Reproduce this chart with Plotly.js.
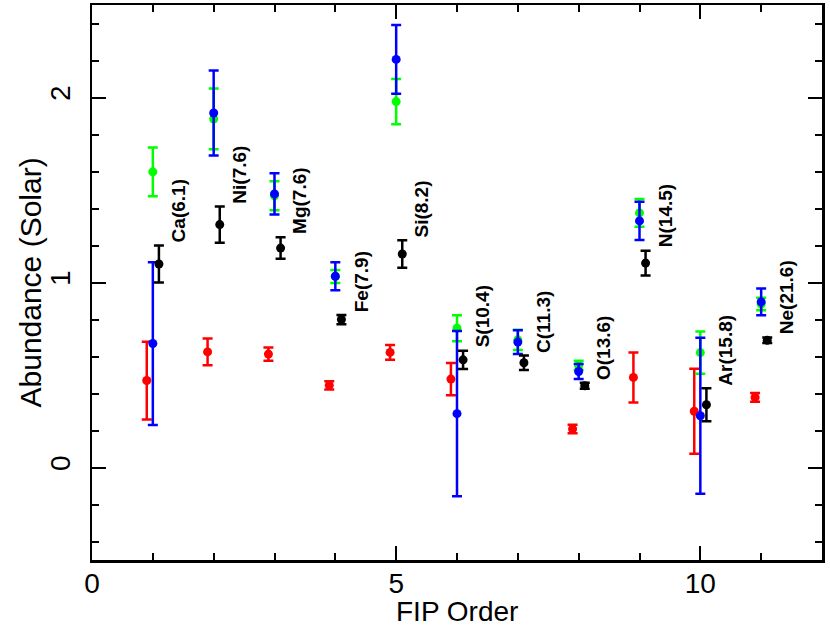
<!DOCTYPE html>
<html>
<head>
<meta charset="utf-8">
<script src="https://cdn.plot.ly/plotly-3.0.1.min.js"></script>
<style>
  html, body { margin: 0; padding: 0; background: #fff; }
  #chart { width: 830px; height: 629px; }
</style>
</head>
<body>
<div id="chart"></div>
<script>
// Element order (by FIP) and labels
const ORDER = [1, 2, 3, 4, 5, 6, 7, 8, 9, 10, 11];
const LABELS = ['Ca(6.1)', 'Ni(7.6)', 'Mg(7.6)', 'Fe(7.9)', 'Si(8.2)', 'S(10.4)',
                'C(11.3)', 'O(13.6)', 'N(14.5)', 'Ar(15.8)', 'Ne(21.6)'];

// Red set (plotted at order - 0.1); no value for C
const RED_VAL = [0.47, 0.625, 0.613, 0.444, 0.622, 0.478, null, 0.208, 0.487, 0.304, 0.379];
const RED_ERR = [0.21, 0.072, 0.036, 0.022, 0.04, 0.087, null, 0.023, 0.135, 0.23, 0.024];

// Green set (at order)
const GREEN_VAL = [1.598, 1.884, 1.469, 1.032, 1.978, 0.753, 0.69, 0.552, 1.376, 0.621, 0.884];
const GREEN_ERR = [0.132, 0.164, 0.078, 0.035, 0.122, 0.07, 0.055, 0.025, 0.075, 0.114, 0.034];

// Blue set (at order)
const BLUE_VAL = [0.67, 1.916, 1.479, 1.034, 2.206, 0.291, 0.678, 0.519, 1.333, 0.28, 0.895];
const BLUE_ERR = [0.44, 0.23, 0.111, 0.076, 0.186, 0.447, 0.064, 0.04, 0.103, 0.422, 0.072];

// Black set (at order + 0.1)
const BLACK_VAL = [1.10, 1.313, 1.186, 0.80, 1.154, 0.582, 0.566, 0.442, 1.105, 0.339, 0.688];
const BLACK_ERR = [0.10, 0.098, 0.058, 0.025, 0.074, 0.049, 0.039, 0.016, 0.067, 0.089, 0.015];

const FONT = '"Liberation Sans", Arial, sans-serif';

function serie(vals, errs, shift, color) {
  return {
    x: ORDER.map(o => o + shift),
    y: vals,
    type: 'scatter',
    mode: 'markers',
    marker: { color: color, size: 9 },
    error_y: { type: 'data', array: errs, visible: true, color: color, thickness: 2.5, width: 5 },
    hoverinfo: 'x+y',
  };
}

const traces = [
  serie(RED_VAL, RED_ERR, -0.1, '#ff0000'),
  serie(GREEN_VAL, GREEN_ERR, 0, '#00ff00'),
  serie(BLUE_VAL, BLUE_ERR, 0, '#0000ff'),
  serie(BLACK_VAL, BLACK_ERR, 0.1, '#000000'),
];

// Element names written upward, sitting on top of the black error bar
const annotations = LABELS.map((txt, i) => ({
  x: ORDER[i] + 0.42,
  y: BLACK_VAL[i] + BLACK_ERR[i],
  xref: 'x', yref: 'y',
  text: txt,
  showarrow: false,
  textangle: -90,
  xanchor: 'center', yanchor: 'bottom',
  yshift: 1,
  font: { family: FONT, size: 19, color: '#000', weight: 'bold' },
}));

// Axis titles placed by hand, the bottom margin is tight
annotations.push({
  x: 0.5, y: 0, xref: 'paper', yref: 'paper',
  text: 'FIP Order', showarrow: false,
  xanchor: 'center', yanchor: 'bottom', yshift: -69,
  font: { family: FONT, size: 28, color: '#000' },
});
annotations.push({
  x: 0, y: 0.5, xref: 'paper', yref: 'paper',
  text: 'Abundance (Solar)', showarrow: false, textangle: -90,
  xanchor: 'center', yanchor: 'middle', xshift: -62,
  font: { family: FONT, size: 30, color: '#000' },
});

const axisBase = {
  showline: true, linecolor: '#000', linewidth: 2.5,
  mirror: 'allticks',
  ticks: 'inside', ticklen: 14, tickwidth: 2, tickcolor: '#000',
  showgrid: false, zeroline: false,
  tickfont: { family: FONT, size: 28, color: '#000' },
};

const layout = {
  width: 830, height: 629,
  paper_bgcolor: '#fff', plot_bgcolor: '#fff',
  margin: { l: 92, r: 8, t: 5, b: 69 },
  showlegend: false,
  xaxis: {
    ...axisBase,
    range: [0, 12],
    tick0: 0, dtick: 5,
    ticklabelstandoff: -3,
    minor: { ticks: 'inside', ticklen: 7, tickwidth: 2, tickcolor: '#000', dtick: 1 },
  },
  yaxis: {
    ...axisBase,
    range: [-0.5, 2.5],
    tick0: 0, dtick: 1,
    tickangle: -90,
    ticklabelstandoff: 8,
    minor: { ticks: 'inside', ticklen: 7, tickwidth: 2, tickcolor: '#000', dtick: 0.2 },
  },
  annotations: annotations,
};

Plotly.newPlot('chart', traces, layout, { displayModeBar: false, staticPlot: true });
</script>
</body>
</html>
